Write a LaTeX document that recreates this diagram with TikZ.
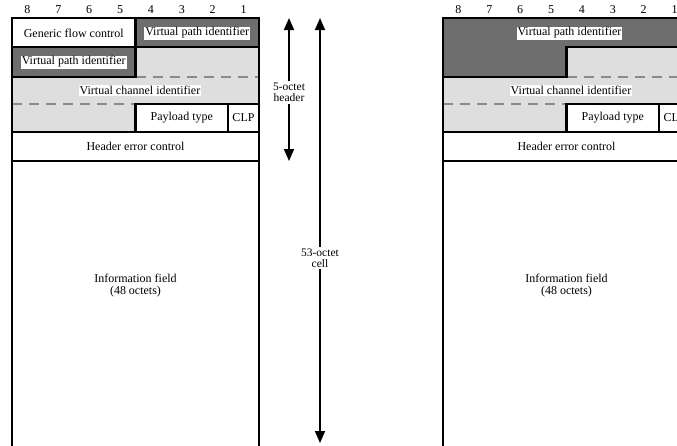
\documentclass[tikz,border=0pt]{standalone}
\usepackage{fontspec}
\setmainfont{Liberation Serif}
\usetikzlibrary{arrows.meta}
\definecolor{vpigray}{HTML}{6E6E6E}
\definecolor{vcigray}{HTML}{DEDEDE}
\definecolor{dashgray}{HTML}{8A8A8A}

% Rows 2-5 and the information field, shared by both cell formats.
% #1 = name prefix; coordinates are local to a 247-wide cell.
\newcommand\atmbody[1]{%
  \fill[vcigray] (123.5,47) rectangle (247,77);
  \fill[vcigray] (0,77) rectangle (247,104);
  \fill[vcigray] (0,104) rectangle (123.5,132);
  \draw[split] (123.5,77) -- (247,77);
  \draw[split] (0,104) -- (123.5,104);
  \draw[frame] (123.5,104) rectangle (216,132);
  \draw[frame] (216,104) rectangle (247,132);
  \draw[frame] (0,132) rectangle (247,161);
  \draw[frame] (0,161) rectangle (247,480);
  \draw[heavy] (123.5,47) -- (247,47) -- (247,104) -- (123.5,104)
    -- (123.5,132) -- (0,132) -- (0,77) -- (123.5,77) -- cycle;
  \node[lbl] (#1vci) at (128,90.5) {Virtual channel identifier};
  \node[txt] (#1pt)  at (169.75,118) {Payload type};
  \node[txt] (#1clp) at (231.5,118) {CLP};
  \node[txt] (#1hec) at (123.5,146.5) {Header error control};
  \node[txt, align=center] (#1info) at (123.5,286) {Information field\\(48 octets)};
  \foreach \b [count=\i] in {8,7,6,5,4,3,2,1}
    \node[txt] (#1bit\b) at ({(\i-0.5)*247/8},10) {\b};
}

\begin{document}
\begin{tikzpicture}[x=1pt,y=-1pt,
  txt/.style={inner sep=0pt, font=\fontsize{12}{12}\selectfont},
  lbl/.style={txt, fill=white, inner sep=1pt},
  heavy/.style={line width=2.4pt, line join=miter},
  frame/.style={line width=1.7pt},
  split/.style={dashgray, line width=1.6pt, dash pattern=on 10pt off 7pt},
  dim/.style={line width=1.8pt, -{Triangle[width=10pt,length=12pt]}},
  dimlabel/.style={inner sep=1.5pt, align=center, font=\fontsize{11.5}{11}\selectfont}
]
\useasboundingbox (0,0) rectangle (677,445);
\clip (0,0) rectangle (677,445);
\fill[white] (0,0) rectangle (677,445);

% UNI cell header
\begin{scope}[xshift=12pt]
  \fill[vpigray] (123.5,18) rectangle (247,47);
  \fill[vpigray] (0,47) rectangle (123.5,77);
  \atmbody{u}
  \draw[frame] (0,18) rectangle (123.5,47);
  \draw[heavy] (123.5,18) rectangle (247,47);
  \draw[heavy] (0,47) rectangle (123.5,77);
  \node[txt] (ugfc) at (61.75,33) {Generic flow control};
  \node[lbl] (uvpia) at (185.25,33) {Virtual path identifier};
  \node[lbl] (uvpib) at (61.75,62) {Virtual path identifier};
\end{scope}

% NNI cell header
\begin{scope}[xshift=443pt]
  \fill[vpigray] (0,18) -- (247,18) -- (247,47) -- (123.5,47)
    -- (123.5,77) -- (0,77) -- cycle;
  \atmbody{n}
  \draw[heavy] (0,18) -- (247,18) -- (247,47) -- (123.5,47)
    -- (123.5,77) -- (0,77) -- cycle;
  \node[lbl] (nvpi) at (126.5,33) {Virtual path identifier};
\end{scope}

% Size markers
\coordinate (hdrtop) at (289,18);
\coordinate (hdrbot) at (289,161);
\node[dimlabel] (hdrlbl) at (289,92.5) {5-octet\\header};
\draw[dim] (hdrlbl) -- (hdrtop);
\draw[dim] (hdrlbl) -- (hdrbot);

\coordinate (celltop) at (320,18);
\coordinate (cellbot) at (320,443);
\node[dimlabel] (celllbl) at (320,258) {53-octet\\cell};
\draw[dim] (celllbl) -- (celltop);
\draw[dim] (celllbl) -- (cellbot);
\end{tikzpicture}
\end{document}
